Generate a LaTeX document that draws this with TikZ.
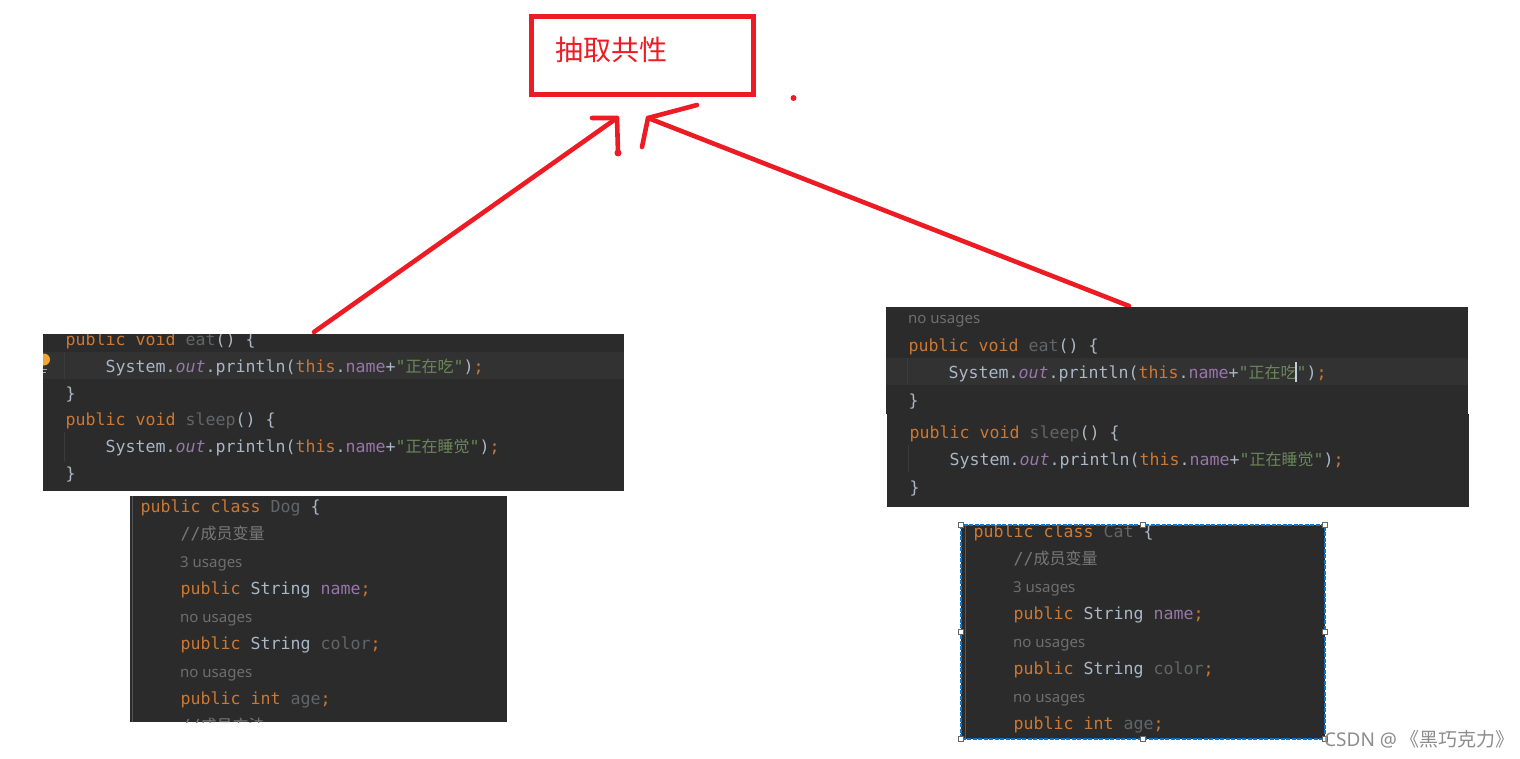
\documentclass[tikz,border=0pt]{standalone}
\usepackage{fontspec}
\setmonofont{DejaVu Sans Mono}
\setsansfont{Noto Sans}
\newfontfamily\cjk{Noto Sans CJK SC}
\usepackage{tikz}
\definecolor{panelbg}{HTML}{2B2B2B}
\definecolor{rowbg}{HTML}{323232}
\definecolor{guide}{HTML}{3B3B3B}
\definecolor{stripe}{HTML}{555555}
\definecolor{kwcol}{HTML}{CC7832}
\definecolor{plaincol}{HTML}{A9B7C6}
\definecolor{fieldcol}{HTML}{9876AA}
\definecolor{strcol}{HTML}{6A8759}
\definecolor{dimcol}{HTML}{626466}
\definecolor{notecol}{HTML}{787878}
\definecolor{usagecol}{HTML}{6E6E6E}
\definecolor{bulbcol}{HTML}{F0A732}
\definecolor{penred}{HTML}{ED1C24}
\definecolor{selblue}{HTML}{0A78D2}
\newcommand{\kw}[1]{\textcolor{kwcol}{#1}}
\newcommand{\fld}[1]{\textcolor{fieldcol}{#1}}
\newcommand{\dimd}[1]{\textcolor{dimcol}{#1}}
\newcommand{\strg}[1]{\textcolor{strcol}{#1}}
\newcommand{\zh}[1]{{\fontsize{16}{20}\selectfont\cjk #1}}
\newcommand{\printstr}[1]{System.\fld{\itshape out}.println(\kw{this}.\fld{name}+\strg{"\zh{#1}"})\kw{;}}
\tikzset{
  codeline/.style={anchor=base west,inner sep=0pt,text=plaincol,font=\fontsize{16.6}{20}\selectfont\ttfamily},
  usagenote/.style={anchor=base west,inner sep=0pt,text=usagecol,font=\fontsize{15}{18}\selectfont\sffamily},
  commentline/.style={codeline,text=notecol},
  panel/.style={fill=panelbg},
  penline/.style={draw=penred,line width=4.6pt,line cap=round,line join=round},
  handle/.style={draw=black!60,fill=white,line width=0.8pt,inner sep=0pt,minimum size=4.5pt}
}

\begin{document}
\begin{tikzpicture}[x=1pt,y=-1pt]
\useasboundingbox (0,0) rectangle (1520,759);

\draw[draw=penred,line width=4.6pt] (531.7,16.3) rectangle (753.2,94.3);
\node[anchor=west,inner sep=0pt,text=penred,font=\fontsize{28}{30}\selectfont\cjk] (title) at (555,50) {抽取共性};
\fill[penred] (793.5,98) circle (3);

\coordinate (dogtail) at (314,332);
\coordinate (dogtip) at (617,118);
\coordinate (dogleft) at (592,118);
\coordinate (dogright) at (618,153);
\coordinate (cattail) at (1129,306);
\coordinate (cattip) at (648,118);
\coordinate (catleft) at (697,105);
\coordinate (catright) at (642,147);
\draw[penline] (dogtail) -- (dogtip);
\draw[penline] (dogleft) -- (dogtip) -- (dogright);
\fill[penred] (dogright) circle (3.5);
\draw[penline] (cattail) -- (cattip);
\draw[penline] (catleft) -- (cattip) -- (catright);

\begin{scope}
\clip (43,334) rectangle (624,491);
\fill[panel] (43,334) rectangle (624,491);
\fill[rowbg] (43,352) rectangle (624,379);
\draw[guide] (64,352) -- (64,379);
\draw[guide] (64,432) -- (64,462);
\fill[bulbcol] (44,359.5) circle (6);
\draw[black!35,line width=1pt] (43,369) -- (47,369) (43,372) -- (46,372);
\node[codeline] (eatone) at (65.5,345.5) {\kw{public void} \dimd{eat}() \{};
\node[codeline] (eatprint) at (105.5,372.5) {\printstr{正在吃}};
\node[codeline] (eatclose) at (65.5,399.5) {\}};
\node[codeline] (sleepone) at (65.5,425.5) {\kw{public void} \dimd{sleep}() \{};
\node[codeline] (sleepprint) at (105.5,452.5) {\printstr{正在睡觉}};
\node[codeline] (sleepclose) at (65.5,479.5) {\}};
\end{scope}

\begin{scope}
\clip (130,496) rectangle (507,722);
\fill[panel] (130,496) rectangle (507,722);
\fill[stripe] (132,496) rectangle (133,722);
\node[codeline] (dogclass) at (140.5,512.5) {\kw{public class} \dimd{Dog} \{};
\node[commentline] (dogfield) at (180.5,539.5) {//\zh{成员变量}};
\node[usagenote] (dognoteone) at (180,567) {3 usages};
\node[codeline] (dogname) at (180.5,594.5) {\kw{public} String \fld{name}\kw{;}};
\node[usagenote] (dognotetwo) at (180,622) {no usages};
\node[codeline] (dogcolor) at (180.5,649.5) {\kw{public} String \dimd{color}\kw{;}};
\node[usagenote] (dognotethree) at (180,677) {no usages};
\node[codeline] (dogage) at (180.5,704.5) {\kw{public int} \dimd{age}\kw{;}};
\node[commentline] (dogmethod) at (180.5,731.5) {//\zh{成员方法}};
\end{scope}

\fill[panel] (886,307) rectangle (1468,414);
\fill[panel] (887,414) rectangle (1469,507);
\fill[rowbg] (886,358) rectangle (1468,385);
\draw[guide] (907,358) -- (907,385);
\draw[guide] (908,445) -- (908,472);
\node[usagenote] (catnotezero) at (908,323) {no usages};
\node[codeline] (cateat) at (908.5,351.5) {\kw{public void} \dimd{eat}() \{};
\node[codeline] (cateatprint) at (948.5,378.5) {\printstr{正在吃}};
\draw[plaincol!70!white,line width=1.2pt] (1296,362) -- (1296,382);
\node[codeline] (cateatclose) at (908.5,406.5) {\}};
\node[codeline] (catsleep) at (909.5,438.5) {\kw{public void} \dimd{sleep}() \{};
\node[codeline] (catsleepprint) at (949.5,465.5) {\printstr{正在睡觉}};
\node[codeline] (catsleepclose) at (909.5,493.5) {\}};

\begin{scope}
\clip (961,525) rectangle (1325,739);
\fill[panel] (961,525) rectangle (1325,739);
\fill[stripe] (965,525) rectangle (966,739);
\node[codeline] (catclass) at (973.5,537.5) {\kw{public class} \dimd{Cat} \{};
\node[commentline] (catfield) at (1013.5,564.5) {//\zh{成员变量}};
\node[usagenote] (catnoteone) at (1013,592) {3 usages};
\node[codeline] (catname) at (1013.5,619.5) {\kw{public} String \fld{name}\kw{;}};
\node[usagenote] (catnotetwo) at (1013,647) {no usages};
\node[codeline] (catcolor) at (1013.5,674.5) {\kw{public} String \dimd{color}\kw{;}};
\node[usagenote] (catnotethree) at (1013,702) {no usages};
\node[codeline] (catage) at (1013.5,729.5) {\kw{public int} \dimd{age}\kw{;}};
\end{scope}

\draw[selblue,line width=1.2pt,dash pattern=on 4pt off 1.5pt] (961,525) rectangle (1325,739);
\node[handle] (hnw) at (961,525) {};
\node[handle] (hn) at (1143,525) {};
\node[handle] (hne) at (1325,525) {};
\node[handle] (hw) at (961,632) {};
\node[handle] (he) at (1325,632) {};
\node[handle] (hsw) at (961,739) {};
\node[handle] (hs) at (1143,739) {};
\node[handle] (hse) at (1325,739) {};

\node[anchor=base west,inner sep=0pt,text=black!45,font=\fontsize{19}{22}\selectfont\sffamily] (mark) at (1324,746.5) {CSDN @\,{\cjk 《黑巧克力》}};
\end{tikzpicture}
\end{document}
